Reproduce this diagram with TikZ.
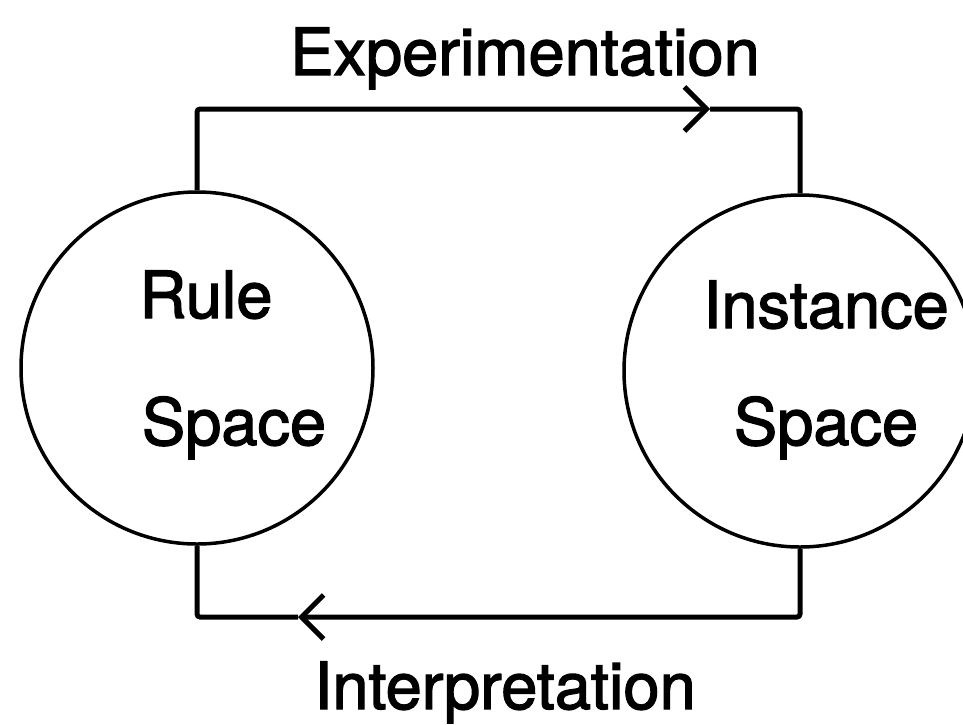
\documentclass[tikz,border=0pt]{standalone}
\usepackage{fontspec}
\setmainfont{TeX Gyre Heros}[FakeBold=2]
\usetikzlibrary{arrows.meta}

\tikzset{
  spacecirc/.style={draw, circle, line width=3.5pt, minimum size=352pt, inner sep=0pt},
  lbl/.style={anchor=base, inner sep=0pt, font=\fontsize{65}{78}\selectfont},
  link/.style={line width=5pt, rounded corners=3pt},
  barb/.style={-{Straight Barb[length=22pt, width=44pt]}}
}

\begin{document}
\begin{tikzpicture}[x=1pt, y=-1pt]
\useasboundingbox (0, 0) rectangle (963, 724);
\clip (0, 0) rectangle (963, 724);
% the two spaces
\node[spacecirc] (rule) at (197, 368) {};
\node[spacecirc] (inst) at (800, 371) {};
\node[lbl] (rulea) at (206, 318) {Rule};
\node[lbl] (ruleb) at (234, 445) {Space};
\node[lbl] (insta) at (826, 328) {Instance};
\node[lbl] (instb) at (826, 445) {Space};
% labels of the loop
\node[lbl] (expt) at (525, 75) {Experimentation};
\node[lbl] (intp) at (505, 709) {Interpretation};
% loop
\coordinate (exptip) at (710, 109);
\coordinate (intptip) at (298, 617);
\draw[link, barb] (rule.north) |- (exptip);
\draw[link] (exptip) -| (inst.north);
\draw[link, barb] (inst.south) |- (intptip);
\draw[link] (intptip) -| (rule.south);
\end{tikzpicture}
\end{document}
